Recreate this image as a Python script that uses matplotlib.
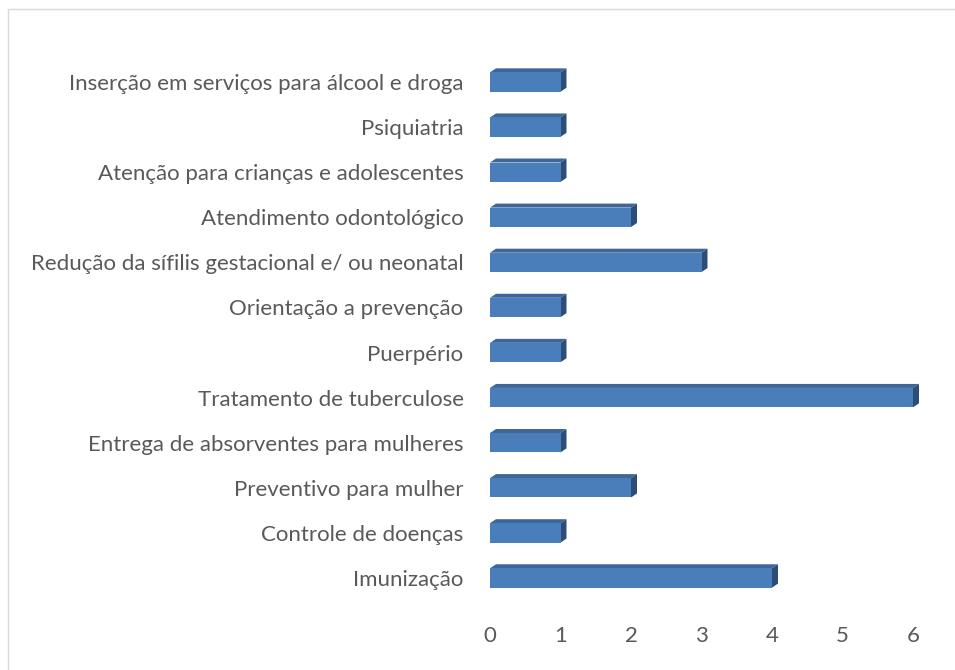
import matplotlib
matplotlib.use("Agg")
import matplotlib.pyplot as plt
from matplotlib.patches import Polygon
from matplotlib.lines import Line2D

# dados (de baixo para cima)
categorias = [
    "Imunização",
    "Controle de doenças",
    "Preventivo para mulher",
    "Entrega de absorventes para mulheres",
    "Tratamento de tuberculose",
    "Puerpério",
    "Orientação a prevenção",
    "Redução da sífilis gestacional e/ ou neonatal",
    "Atendimento odontológico",
    "Atenção para crianças e adolescentes",
    "Psiquiatria",
    "Inserção em serviços para álcool e droga",
]
valores = [4, 1, 2, 1, 6, 1, 1, 3, 2, 1, 1, 1]

plt.rcParams['font.family'] = ['Lato', 'DejaVu Sans']

fig = plt.figure(figsize=(9.55, 6.7), dpi=100)
ax = fig.add_axes([490 / 955, (670 - 600.5) / 670, (913 - 490) / 955, 541 / 670])

# borda do gráfico (só esquerda e topo aparecem)
fig.lines.append(Line2D([8 / 955, 8 / 955, 1], [0, 1 - 9 / 670, 1 - 9 / 670],
                        transform=fig.transFigure, color="#d9d9d9", linewidth=1))

ax.set_xlim(0, 6)
ax.set_ylim(-0.5, len(categorias) - 0.5)

h = 0.43
frente = "#4a7ebb"
topo = "#3f6699"
lado = "#2c4d77"

# profundidade 3D em unidades de dados (~6px x ~4px)
dx = 6 * 6 / 423
dy = 4 * 12 / 541

for i, v in enumerate(valores):
    ax.barh(i, v, height=h, color=frente, edgecolor="none", zorder=3)
    y1 = i + h / 2
    y0 = i - h / 2
    ax.add_patch(Polygon([(0, y1), (v, y1), (v + dx, y1 + dy), (dx, y1 + dy)],
                         closed=True, facecolor=topo, edgecolor="none",
                         zorder=2, clip_on=False))
    ax.add_patch(Polygon([(v, y0), (v, y1), (v + dx, y1 + dy), (v + dx, y0 + dy)],
                         closed=True, facecolor=lado, edgecolor="none",
                         zorder=2, clip_on=False))

ax.set_yticks(range(len(categorias)))
ax.set_yticklabels(categorias)
ax.set_xticks(range(0, 7))

for s in ax.spines.values():
    s.set_visible(False)
ax.tick_params(axis="y", length=0, pad=19, labelsize=16, labelcolor="#595959")
ax.tick_params(axis="x", length=0, pad=18, labelsize=16, labelcolor="#595959")

fig.savefig("out.png", dpi=100)
